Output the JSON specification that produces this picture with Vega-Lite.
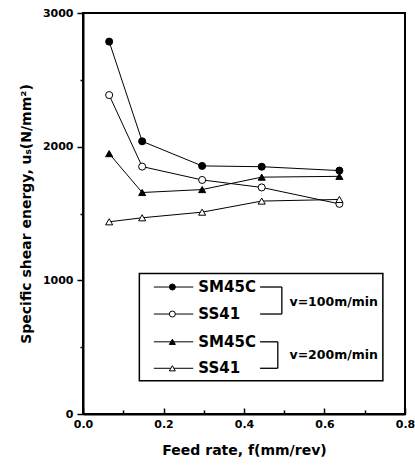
{
  "$schema": "https://vega.github.io/schema/vega-lite/v6.json",
  "width": 322,
  "height": 401,
  "autosize": {"type": "none"},
  "padding": {"left": 83, "top": 13, "right": 10, "bottom": 53},
  "background": "white",
  "config": {
    "view": {"stroke": "black", "strokeWidth": 2},
    "axis": {
      "domainColor": "black", "domainWidth": 2, "tickColor": "black", "tickWidth": 1.5,
      "labelColor": "black", "titleColor": "black", "grid": false,
      "labelFont": "DejaVu Sans", "labelFontWeight": "bold", "labelFontSize": 11,
      "titleFont": "DejaVu Sans", "titleFontWeight": "bold", "titleFontSize": 14
    }
  },
  "datasets": {
    "series": [
      {"series": "SM45C-100", "speed": "100", "material": "SM45C", "f": 0.065, "us": 2786},
      {"series": "SM45C-100", "speed": "100", "material": "SM45C", "f": 0.147, "us": 2040},
      {"series": "SM45C-100", "speed": "100", "material": "SM45C", "f": 0.296, "us": 1856},
      {"series": "SM45C-100", "speed": "100", "material": "SM45C", "f": 0.444, "us": 1850},
      {"series": "SM45C-100", "speed": "100", "material": "SM45C", "f": 0.637, "us": 1821},
      {"series": "SS41-100", "speed": "100", "material": "SS41", "f": 0.065, "us": 2386},
      {"series": "SS41-100", "speed": "100", "material": "SS41", "f": 0.147, "us": 1851},
      {"series": "SS41-100", "speed": "100", "material": "SS41", "f": 0.296, "us": 1751},
      {"series": "SS41-100", "speed": "100", "material": "SS41", "f": 0.444, "us": 1695},
      {"series": "SS41-100", "speed": "100", "material": "SS41", "f": 0.637, "us": 1572},
      {"series": "SM45C-200", "speed": "200", "material": "SM45C", "f": 0.065, "us": 1948},
      {"series": "SM45C-200", "speed": "200", "material": "SM45C", "f": 0.147, "us": 1657},
      {"series": "SM45C-200", "speed": "200", "material": "SM45C", "f": 0.296, "us": 1679},
      {"series": "SM45C-200", "speed": "200", "material": "SM45C", "f": 0.444, "us": 1772},
      {"series": "SM45C-200", "speed": "200", "material": "SM45C", "f": 0.637, "us": 1778},
      {"series": "SS41-200", "speed": "200", "material": "SS41", "f": 0.065, "us": 1438},
      {"series": "SS41-200", "speed": "200", "material": "SS41", "f": 0.147, "us": 1468},
      {"series": "SS41-200", "speed": "200", "material": "SS41", "f": 0.296, "us": 1510},
      {"series": "SS41-200", "speed": "200", "material": "SS41", "f": 0.444, "us": 1593},
      {"series": "SS41-200", "speed": "200", "material": "SS41", "f": 0.637, "us": 1605}
    ],
    "legendRows": [
      {"label": "SM45C", "speed": "100", "material": "SM45C", "ly": 950},
      {"label": "SS41", "speed": "100", "material": "SS41", "ly": 748},
      {"label": "SM45C", "speed": "200", "material": "SM45C", "ly": 540},
      {"label": "SS41", "speed": "200", "material": "SS41", "ly": 342}
    ],
    "brackets": [
      {"group": "v=100m/min", "ytop": 950, "ybot": 748, "ymid": 840, "xb": 0.494},
      {"group": "v=200m/min", "ytop": 540, "ybot": 342, "ymid": 445, "xb": 0.484}
    ]
  },
  "layer": [
    {
      "data": {"name": "series"},
      "mark": {"type": "line", "color": "black", "strokeWidth": 1},
      "encoding": {
        "x": {"field": "f", "type": "quantitative",
          "scale": {"domain": [0, 0.8], "nice": false},
          "axis": {"title": "Feed rate, f(mm/rev)",
            "values": [0, 0.1, 0.2, 0.3, 0.4, 0.5, 0.6, 0.7, 0.8],
            "labelExpr": "round(datum.value*10) % 2 === 0 ? format(datum.value, '.1f') : ''",
            "tickSize": {"condition": {"test": "round(datum.value*10) % 2 === 0", "value": -6}, "value": -4},
            "labelPadding": 10, "titlePadding": 14, "labelFlush": false}},
        "y": {"field": "us", "type": "quantitative",
          "scale": {"domain": [0, 3000], "nice": false},
          "axis": {"title": "Specific shear energy, uₛ(N/mm²)",
            "values": [0, 500, 1000, 1500, 2000, 2500, 3000],
            "labelExpr": "datum.value % 1000 === 0 ? datum.value : ''",
            "tickSize": {"condition": {"test": "datum.value % 1000 === 0", "value": 6}, "value": 3},
            "labelPadding": 4, "titlePadding": 9}},
        "detail": {"field": "series"}
      }
    },
    {
      "data": {"name": "series"},
      "mark": {"type": "point", "filled": true, "stroke": "black", "strokeWidth": 1, "size": 50, "opacity": 1},
      "encoding": {
        "x": {"field": "f", "type": "quantitative"},
        "y": {"field": "us", "type": "quantitative"},
        "shape": {"field": "speed", "type": "nominal", "scale": {"domain": ["100", "200"], "range": ["circle", "triangle-up"]}, "legend": null},
        "fill": {"field": "material", "type": "nominal", "scale": {"domain": ["SM45C", "SS41"], "range": ["black", "white"]}, "legend": null}
      }
    },
    {
      "data": {"values": [{"box": "legend"}]},
      "mark": {"type": "rect", "fill": "white", "stroke": "black", "strokeWidth": 1.5},
      "encoding": {
        "x": {"datum": 0.14}, "x2": {"datum": 0.745},
        "y": {"datum": 1052}, "y2": {"datum": 249}
      }
    },
    {
      "data": {"name": "legendRows"},
      "mark": {"type": "rule", "color": "black", "strokeWidth": 1},
      "encoding": {
        "x": {"datum": 0.176}, "x2": {"datum": 0.274},
        "y": {"field": "ly", "type": "quantitative"}
      }
    },
    {
      "data": {"name": "legendRows"},
      "mark": {"type": "point", "filled": true, "stroke": "black", "strokeWidth": 1, "size": 36, "opacity": 1},
      "encoding": {
        "x": {"datum": 0.222},
        "y": {"field": "ly", "type": "quantitative"},
        "shape": {"field": "speed", "type": "nominal", "legend": null},
        "fill": {"field": "material", "type": "nominal", "legend": null}
      }
    },
    {
      "data": {"name": "legendRows"},
      "mark": {"type": "text", "align": "left", "baseline": "middle", "font": "DejaVu Sans", "fontWeight": "bold", "fontSize": 15, "color": "black"},
      "encoding": {
        "x": {"datum": 0.2865},
        "y": {"field": "ly", "type": "quantitative"},
        "text": {"field": "label"}
      }
    },
    {
      "data": {"name": "brackets"},
      "mark": {"type": "rule", "color": "black", "strokeWidth": 1.3},
      "encoding": {
        "x": {"datum": 0.44}, "x2": {"field": "xb", "type": "quantitative"},
        "y": {"field": "ytop", "type": "quantitative"}
      }
    },
    {
      "data": {"name": "brackets"},
      "mark": {"type": "rule", "color": "black", "strokeWidth": 1.3},
      "encoding": {
        "x": {"datum": 0.44}, "x2": {"field": "xb", "type": "quantitative"},
        "y": {"field": "ybot", "type": "quantitative"}
      }
    },
    {
      "data": {"name": "brackets"},
      "mark": {"type": "rule", "color": "black", "strokeWidth": 1.3},
      "encoding": {
        "x": {"field": "xb", "type": "quantitative"},
        "y": {"field": "ytop", "type": "quantitative"}, "y2": {"field": "ybot"}
      }
    },
    {
      "data": {"name": "brackets"},
      "mark": {"type": "text", "align": "left", "baseline": "middle", "font": "DejaVu Sans", "fontWeight": "bold", "fontSize": 12.5, "color": "black"},
      "encoding": {
        "x": {"datum": 0.513},
        "y": {"field": "ymid", "type": "quantitative"},
        "text": {"field": "group"}
      }
    }
  ]
}
